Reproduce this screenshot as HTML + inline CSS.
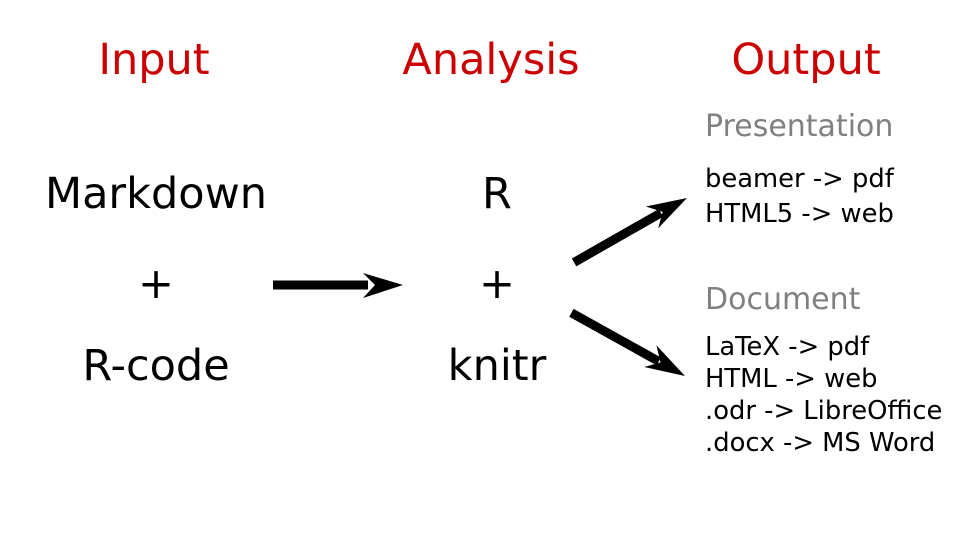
<!DOCTYPE html>
<html><head><meta charset="utf-8"><style>html,body{margin:0;padding:0;background:#fff}svg{display:block}text{font-family:"DejaVu Sans","Liberation Sans",sans-serif}</style></head>
<body>
<svg width="969" height="538" viewBox="0 0 969 538" xmlns="http://www.w3.org/2000/svg">
<g fill="#cc0000" font-size="43" text-anchor="middle">
<text x="154" y="74">Input</text>
<text x="491" y="74">Analysis</text>
<text x="806" y="74">Output</text>
</g>
<g fill="#000" font-size="43" text-anchor="middle">
<text x="156" y="208">Markdown</text>
<text x="156" y="298">+</text>
<text x="156" y="380">R-code</text>
<text x="497" y="208">R</text>
<text x="497" y="298">+</text>
<text x="497" y="380">knitr</text>
</g>
<g fill="#808080" font-size="30">
<text x="705" y="136">Presentation</text>
<text x="705" y="309">Document</text>
</g>
<g fill="#000" font-size="25.8">
<text x="705" y="187">beamer -&gt; pdf</text>
<text x="705" y="222">HTML5 -&gt; web</text>
<text x="705" y="355">LaTeX -&gt; pdf</text>
<text x="705" y="387">HTML -&gt; web</text>
<text x="705" y="419">.odr -&gt; LibreOffice</text>
<text x="705" y="451">.docx -&gt; MS Word</text>
</g>
<g fill="#000">
<rect x="273" y="280.5" width="95" height="9"/>
<polygon points="403,285 363,273 375,285 363,298"/>
<g transform="translate(687,198) rotate(150.3)">
<rect x="30" y="-4.5" width="100" height="9"/>
<polygon points="0,0 40,-12 28,0 40,13"/>
</g>
<g transform="translate(685,376) rotate(-150.9)">
<rect x="30" y="-4.5" width="100" height="9"/>
<polygon points="0,0 40,-12 28,0 40,13"/>
</g>
</g>
</svg>
</body></html>
